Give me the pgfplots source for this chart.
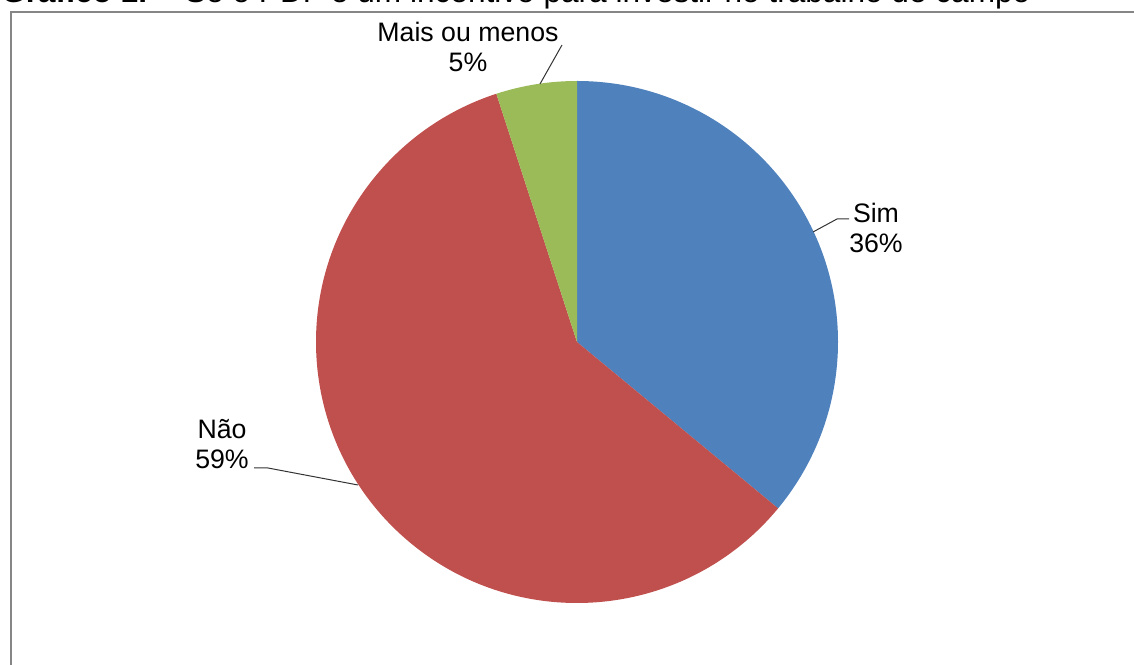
\documentclass[border=0pt]{standalone}
\usepackage{fontspec}
\setmainfont{Liberation Sans}
\usepackage{pgfplots}
\usepackage{pgfplotstable}
\pgfplotsset{compat=1.18}

\definecolor{simblue}{HTML}{4F81BD}
\definecolor{naored}{HTML}{C0504D}
\definecolor{maisgreen}{HTML}{9BBB59}
\definecolor{framegray}{HTML}{868686}

% share of answers, in %
\pgfplotstableread[col sep=comma]{
idx,value
0,36
1,59
2,5
}\piedata

\begin{document}
\begin{tikzpicture}
\path[use as bounding box] (0,0) rectangle (850.5bp,498.75bp);
\clip (0,0) rectangle (850.5bp,498.75bp);
\begin{axis}[
    at={(0,0)}, anchor=south west,
    x=0.75bp, y=0.75bp,
    xmin=-577, xmax=557,
    ymin=-323, ymax=342,
    hide axis, clip=false,
]
    % pie slices, clockwise from 12 o'clock
    \pgfplotsextra{
        \gdef\startangle{90}
        \foreach \i/\col in {0/simblue,1/naored,2/maisgreen}{
            \pgfplotstablegetelem{\i}{value}\of\piedata
            \pgfmathsetmacro{\endangle}{\startangle-3.6*\pgfplotsretval}
            \fill[\col] (axis cs:0,0) -- ++(\startangle:195.75bp)
                arc[start angle=\startangle, end angle=\endangle, radius=195.75bp] -- cycle;
            \xdef\startangle{\endangle}
        }
    }

    % frame and (cut off) title
    \draw[framegray, line width=1.5bp] (axis cs:700,329.5) -- (axis cs:-566.5,329.5) -- (axis cs:-566.5,-400);
    \node[anchor=base west, font=\fontsize{23.8}{28}\selectfont, inner sep=0pt]
        at (axis cs:-576,339) {\textbf{Gráfico 1.} – Se o PDF é um incentivo para investir no trabalho de campo};

    % leader lines
    \draw[black!80, line width=0.75bp] (axis cs:-37,258) -- (axis cs:-15,297);
    \draw[black!80, line width=0.75bp] (axis cs:236,110) -- (axis cs:260,123) -- (axis cs:272,123);
    \draw[black!80, line width=0.75bp] (axis cs:-219,-143) -- (axis cs:-309,-126) -- (axis cs:-323,-126);

    % labels
    \node[align=center, font=\fontsize{20.1}{23.25}\selectfont] at (axis cs:-109,295) {Mais ou menos\\5\%};
    \node[align=center, font=\fontsize{20.1}{23.25}\selectfont] at (axis cs:299,114) {Sim\\36\%};
    \node[align=center, font=\fontsize{20.1}{23.25}\selectfont] at (axis cs:-355,-102) {Não\\59\%};
\end{axis}
\end{tikzpicture}
\end{document}
